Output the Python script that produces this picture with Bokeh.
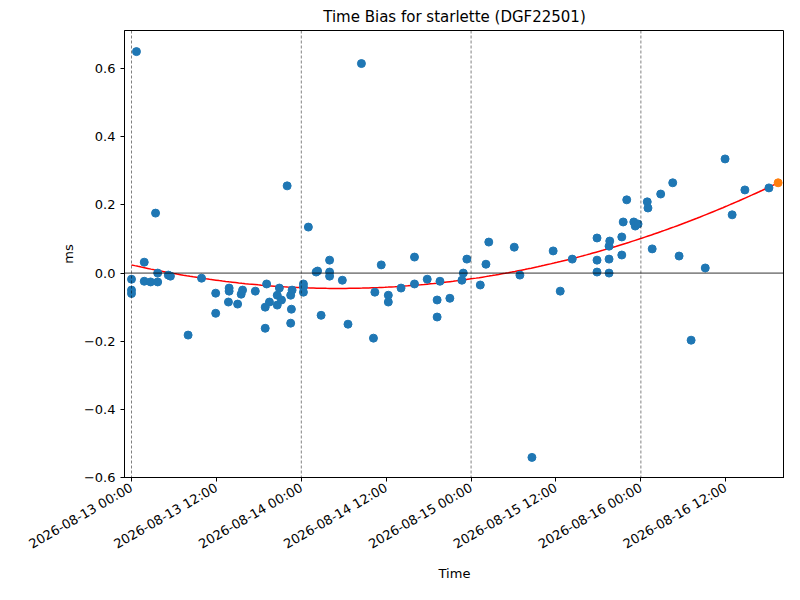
import numpy as np, pandas as pd
from bokeh.plotting import figure
from bokeh.models import Span, FixedTicker, DatetimeTickFormatter, Range1d, CustomJSTickFormatter
from bokeh.embed import file_html
from bokeh.resources import INLINE

start = pd.Timestamp("2026-08-13 00:00")
hours = [0,0,0,0.7,1.8,1.8,2.7,3.4,3.7,3.7,5.2,5.5,8.0,9.9,11.9,11.9,13.7,13.8,13.8,15.0,15.5,15.7,17.5,
         18.9,18.9,19.1,19.5,20.6,20.6,20.9,21.2,22.0,22.5,22.5,22.6,22.7,24.3,24.3,24.3,25.0,26.1,26.3,26.8,
         28.0,28.0,28.0,29.8,30.6,32.5,34.2,34.4,35.3,36.3,36.3,38.1,40.0,40.0,41.8,43.2,43.2,43.6,45.0,46.7,
         46.9,47.4,49.3,50.1,50.5,54.1,54.9,56.6,59.6,60.6,62.3,65.8,65.8,65.8,67.5,67.6,67.5,67.5,69.3,69.3,
         69.5,70.0,71.0,71.2,71.6,72.9,73.0,73.6,74.8,76.5,77.4,79.1,81.1,83.9,84.9,86.7,90.1]
bias = [-0.018,-0.05,-0.06,0.65,0.032,-0.024,-0.026,0.176,0.0,-0.026,-0.006,-0.009,-0.182,-0.015,-0.059,-0.118,
        -0.085,-0.044,-0.053,-0.091,-0.062,-0.05,-0.053,-0.162,-0.1,-0.032,-0.085,-0.094,-0.065,-0.044,-0.079,0.256,
        -0.065,-0.147,-0.106,-0.05,-0.032,-0.056,-0.041,0.135,0.003,0.006,-0.124,0.038,0.003,-0.009,-0.021,-0.15,
        0.615,-0.191,-0.056,0.024,-0.065,-0.085,-0.044,0.047,-0.032,-0.018,-0.129,-0.079,-0.024,-0.074,-0.021,
        0.0,0.041,-0.035,0.026,0.091,0.076,-0.006,-0.541,0.065,-0.053,0.041,0.103,0.038,0.003,0.079,0.094,0.041,
        0.0,0.053,0.106,0.15,0.215,0.15,0.138,0.144,0.209,0.191,0.071,0.232,0.265,0.05,-0.197,0.015,0.335,0.171,
        0.244,0.25]
last_hour = [91.4]
last_bias = [0.265]
fit_hours = [0, 30, 91.4]
fit_bias = [0.024, -0.045, 0.265]

def t(h): return [start + pd.Timedelta(hours=x) for x in h]

p = figure(width=784, height=584, x_axis_type="datetime", output_backend="svg", toolbar_location=None,
           title="Time Bias for starlette (DGF22501)", min_border_left=124, min_border_right=0,
           min_border_bottom=103, min_border_top=17)
p.title.align = "center"; p.title.text_font_size = "15px"; p.title.text_font_style = "normal"
p.title.text_font = "DejaVu Sans"; p.title.text_color = "black"
p.x_range = Range1d(start - pd.Timedelta(hours=0.99), start + pd.Timedelta(hours=92.3))
p.y_range = Range1d(-0.6, 0.712)
p.xgrid.visible = False; p.ygrid.visible = False
for d in range(4):
    p.add_layout(Span(location=start + pd.Timedelta(days=d), dimension="height", line_color="black",
                      line_width=0.5, line_dash="3 2"))
p.add_layout(Span(location=0, dimension="width", line_color="black", line_width=0.8))

coef = np.polyfit(fit_hours, fit_bias, 2)
hh = np.linspace(0, 91.4, 200)
p.line(t(hh), np.polyval(coef, hh), line_color="red", line_width=1.5)
p.scatter(t(hours), bias, size=8, color="#1f77b4")
p.scatter(t(last_hour), last_bias, size=8, color="#ff7f0e")

ticks = [(start + pd.Timedelta(hours=12*i)).value / 1e6 for i in range(8)]
p.xaxis.ticker = FixedTicker(ticks=ticks)
p.xaxis.formatter = DatetimeTickFormatter(hours="%Y-%m-%d %H:%M", days="%Y-%m-%d %H:%M",
                                          minutes="%Y-%m-%d %H:%M", hourmin="%Y-%m-%d %H:%M")
p.xaxis.major_label_orientation = np.pi/6
p.yaxis.ticker = FixedTicker(ticks=[-0.6,-0.4,-0.2,0,0.2,0.4,0.6])
p.yaxis.formatter = CustomJSTickFormatter(code="return (tick<0?'\u2212':'')+Math.abs(tick).toFixed(1)")
p.xaxis.axis_label = "Time"; p.yaxis.axis_label = "ms"
for ax in (p.xaxis[0], p.yaxis[0]):
    ax.axis_label_text_font_style = "normal"; ax.axis_label_text_font_size = "13px"
    ax.major_label_text_font_size = "13px"; ax.axis_label_text_font = "DejaVu Sans"
    ax.major_label_text_font = "DejaVu Sans"; ax.minor_tick_line_color = None
    ax.major_label_text_color = "black"; ax.axis_label_text_color = "black"
    ax.major_tick_in = 0; ax.major_tick_out = 4; ax.axis_line_color = "black"
    ax.major_tick_line_color = "black"
p.outline_line_color = "black"
open("out.html", "w").write(file_html(p, INLINE))
